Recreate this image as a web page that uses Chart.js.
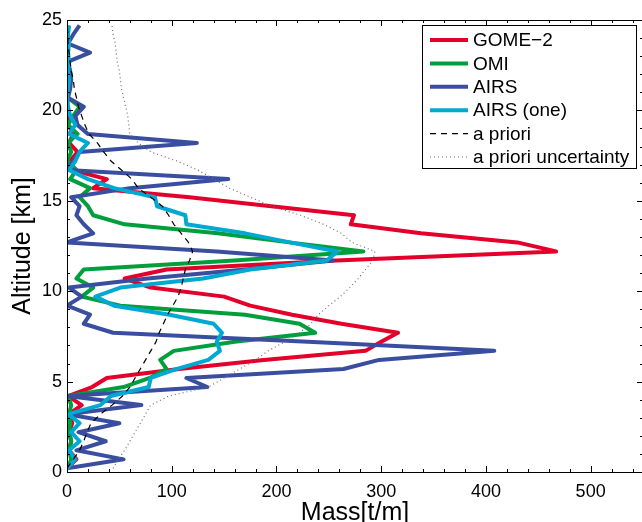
<!DOCTYPE html>
<html>
<head>
<meta charset="utf-8">
<script src="https://cdn.jsdelivr.net/npm/chart.js@4.4.0/dist/chart.umd.min.js"></script>
<style>
html, body { margin: 0; padding: 0; background: #fff; overflow: hidden; }
#wrap { width: 650px; height: 528px; }
</style>
</head>
<body>
<div id="wrap"><canvas id="profile" width="650" height="528"></canvas></div>
<script>
// retrieval altitude levels [km]
const altitude = [0.2, 0.7, 1.2, 1.7, 2.2, 2.7, 3.2, 3.7, 4.2, 4.7,
                  5.2, 5.7, 6.2, 6.7, 7.2, 7.7, 8.2, 8.7, 9.2, 9.7,
                  10.2, 10.7, 11.2, 11.7, 12.2, 12.7, 13.2, 13.7, 14.2, 14.7,
                  15.2, 15.7, 16.2, 16.7, 17.2, 17.7, 18.2, 18.7, 19.2, 19.7,
                  20.2, 20.7, 21.2, 21.7, 22.2, 22.7, 23.2, 23.7, 24.2, 24.7];

// mass [t/m] per level
const gome2 = [0, 9, 2, 4, 2, 5, 2, 14, 1, 24,
               38, 107, 188, 285, 300, 316, 262, 215, 175, 150,
               80, 55, 95, 257, 467, 430, 338, 271, 274, 195,
               117, 25, 38, 5, 3, 10, 2, 6, 1, 2,
               0, 1, 0, 1, 0, 1, 0, 1, 0, 1];
const omi = [1, 4, 2, 4, 2, 3, 2, 4, 1, 54,
             79, 95, 89, 102, 160, 237, 222, 170, 51, 14,
             25, 9, 16, 160, 283, 212, 144, 55, 25, 20,
             12, 22, 3, 9, 0, 4, 1, 10, 1, 6,
             12, 1, 0, 1, 0, 0, 1, 0, 0, 0];
const airs = [0, 54, 9, 37, 11, 50, 0, 71, 0, 134,
              114, 264, 298, 408, 230, 44, 16, 22, 0, 14,
              2, 77, 170, 254, 143, 0, 25, 16, 9, 12,
              4, 60, 154, 0, 6, 12, 124, 20, 10, 8,
              16, 1, 3, 4, 3, 1, 22, 1, 6, 12];
const airsOne = [0, 8, 2, 12, 4, 12, 1, 32, 42, 78,
                 80, 105, 135, 146, 143, 148, 140, 98, 45, 27,
                 51, 130, 175, 248, 258, 213, 170, 114, 113, 86,
                 84, 45, 20, 2, 8, 12, 20, 2, 8, 3,
                 1, 0, 1, 2, 1, 2, 1, 2, 1, 2];
const apriori = [0, 6, 12, 16, 19, 23, 32, 43, 53, 60,
                 65, 70, 75, 80, 85, 88, 92, 96, 101, 106,
                 109, 111, 113, 117, 120, 116, 109, 102, 97, 91,
                 80, 68, 62, 52, 42, 35, 29, 21, 17, 14,
                 11, 9, 7, 6, 4, 3, 2, 1, 1, 0];
const aprioriUnc = [44, 49, 55, 60, 65, 70, 75, 80, 97, 135,
                    150, 165, 180, 192, 208, 222, 233, 240, 250, 261,
                    270, 278, 285, 292, 294, 272, 262, 245, 223, 195,
                    175, 155, 140, 125, 105, 80, 68, 60, 59, 58,
                    56, 54, 52, 51, 50, 48, 47, 46, 44, 43];

const massTicks = [0, 100, 200, 300, 400, 500];
const altTicks = [0, 5, 10, 15, 20, 25];

const FONT = '"Liberation Sans", Arial, Helvetica, sans-serif';

function pts(values) {
    return values.map((v, i) => ({x: v, y: altitude[i]}));
}

const series = [
    {label: 'GOME\u22122', data: gome2, color: '#e3002b', width: 4, dash: []},
    {label: 'OMI', data: omi, color: '#009e3d', width: 4, dash: []},
    {label: 'AIRS', data: airs, color: '#3a4e9f', width: 4, dash: []},
    {label: 'AIRS (one)', data: airsOne, color: '#00a9d2', width: 4, dash: []},
    {label: 'a priori', data: apriori, color: '#000000', width: 1.2, dash: [6, 5]},
    {label: 'a priori uncertainty', data: aprioriUnc, color: '#707070', width: 1.2, dash: [1, 3]}
];

// box + inward ticks on all four sides, like the matlab axes
const frame = {
    id: 'frame',
    afterDatasetsDraw(chart) {
        const {ctx, chartArea: a, scales: {x, y}} = chart;
        ctx.save();
        ctx.strokeStyle = '#000';
        ctx.lineWidth = 1;
        ctx.strokeRect(a.left + 0.5, a.top + 0.5, a.right - a.left, a.bottom - a.top);
        ctx.beginPath();
        for (let v = 0; v <= 550; v += 20) {
            const px = Math.round(x.getPixelForValue(v)) + 0.5;
            const len = v % 100 === 0 ? 6 : 3;
            ctx.moveTo(px, a.bottom); ctx.lineTo(px, a.bottom - len);
            ctx.moveTo(px, a.top); ctx.lineTo(px, a.top + len);
        }
        for (let v = 0; v <= 25; v += 1) {
            const py = Math.round(y.getPixelForValue(v)) + 0.5;
            const len = v % 5 === 0 ? 6 : 3;
            ctx.moveTo(a.left, py); ctx.lineTo(a.left + len, py);
            ctx.moveTo(a.right, py); ctx.lineTo(a.right - len, py);
        }
        ctx.stroke();
        ctx.restore();
    }
};

const boxLegend = {
    id: 'boxLegend',
    afterDraw(chart) {
        const ctx = chart.ctx;
        const left = 422.5, top = 25.5, w = 214, h = 143;
        ctx.save();
        ctx.fillStyle = '#fff';
        ctx.fillRect(left, top, w, h);
        ctx.strokeStyle = '#000';
        ctx.lineWidth = 1;
        ctx.strokeRect(left, top, w, h);
        ctx.font = '19px ' + FONT;
        ctx.textBaseline = 'middle';
        chart.data.datasets.forEach((ds, i) => {
            const yy = 40 + i * 23.4;
            ctx.beginPath();
            ctx.strokeStyle = ds.borderColor;
            ctx.lineWidth = ds.borderWidth;
            ctx.setLineDash(ds.borderDash);
            ctx.moveTo(430, yy);
            ctx.lineTo(468, yy);
            ctx.stroke();
            ctx.setLineDash([]);
            ctx.fillStyle = '#000';
            ctx.fillText(ds.label, 473, yy + 1);
        });
        ctx.restore();
    }
};

new Chart(document.getElementById('profile'), {
    type: 'scatter',
    data: {
        datasets: series.map((s, i) => ({
            label: s.label,
            data: pts(s.data),
            showLine: true,
            borderColor: s.color,
            backgroundColor: s.color,
            borderWidth: s.width,
            borderDash: s.dash,
            borderJoinStyle: 'round',
            pointRadius: 0,
            order: series.length - i
        }))
    },
    options: {
        responsive: false,
        animation: false,
        events: [],
        layout: {padding: {top: 20, right: 7, left: 0, bottom: 0}},
        plugins: {
            legend: {display: false},
            tooltip: {enabled: false}
        },
        scales: {
            x: {
                type: 'linear',
                min: 0,
                max: 550,
                afterBuildTicks: s => { s.ticks = massTicks.map(v => ({value: v})); },
                afterFit: s => { s.height = 56; },
                grid: {display: false, drawTicks: false},
                border: {display: false},
                ticks: {color: '#000', font: {family: FONT, size: 18}, padding: 9, maxRotation: 0, autoSkip: false},
                title: {display: true, text: 'Mass[t/m]', color: '#000',
                        font: {family: FONT, size: 25}, padding: {top: 0, bottom: 0}}
            },
            y: {
                type: 'linear',
                min: 0,
                max: 25,
                afterBuildTicks: s => { s.ticks = altTicks.map(v => ({value: v})); },
                afterFit: s => { s.width = 67; },
                grid: {display: false, drawTicks: false},
                border: {display: false},
                ticks: {color: '#000', font: {family: FONT, size: 18}, padding: 5, autoSkip: false},
                title: {display: true, text: 'Altitude [km]', color: '#000',
                        font: {family: FONT, size: 25}, padding: {top: 8, bottom: 0}}
            }
        }
    },
    plugins: [frame, boxLegend]
});
</script>
</body>
</html>
